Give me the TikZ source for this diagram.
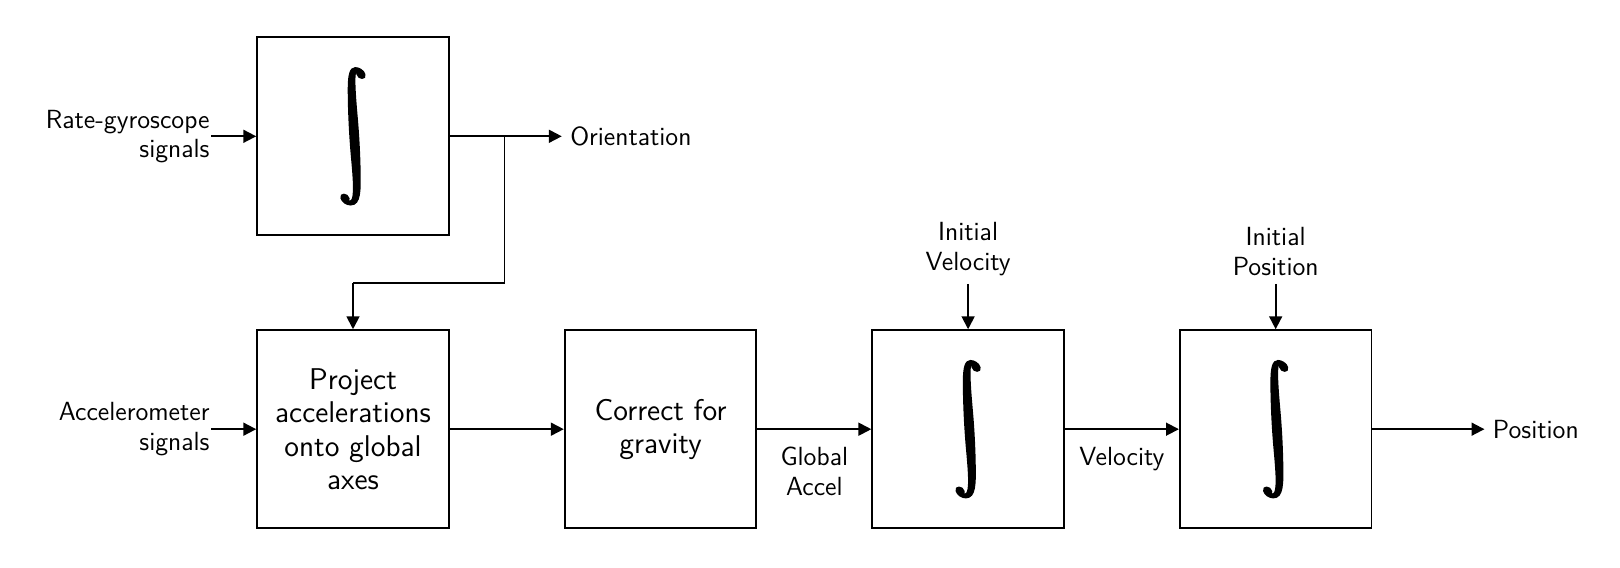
\documentclass[tikz,border=0pt]{standalone}
\usepackage{graphicx}
\usetikzlibrary{positioning,arrows.meta}
\newcommand{\integ}{\resizebox*{!}{2.03cm}{\special{pdf:literal direct 2 Tr 0.5 w}$\displaystyle\int$}}
\begin{document}
\begin{tikzpicture}[
			x=0.015cm, y=-0.015cm,
			font=\sffamily\fontsize{11.2}{12.5}\selectfont,
			node distance=1.395cm and 1.71cm,
			block/.style={draw, line width=0.8pt, minimum width=2.875cm, minimum height=2.97cm, align=center, font=\sffamily\fontsize{12.8}{14.2}\selectfont},
			intsym/.style={xslant=-0.26, transform shape, inner sep=0pt},
			sig/.style={line width=0.8pt, -{Triangle[length=5.5pt,width=5.5pt]}},
			wire/.style={line width=0.8pt},
			lbl/.style={inner sep=0.12cm, align=center},
			inlbl/.style={inner sep=0.5pt, align=right}
		]
		\useasboundingbox (0,0) rectangle (1620,568);
		% blocks
		\node[block] (gyro) at (353,136.3) {};
		\node[block, below=of gyro] (proj) {Project\\accelerations\\onto global\\axes};
		\node[block, right=of proj] (corr) {Correct for\\gravity};
		\node[block, right=of corr] (intv) {};
		\node[block, right=of intv] (intp) {};
		\node[intsym] (gyroint) at (gyro) {\integ};
		\node[intsym] (vint) at (intv) {\integ};
		\node[intsym] (pint) at (intp) {\integ};
		% labels
		\node[inlbl, left=0.675cm of gyro] (rate) {Rate-gyroscope\\signals};
		\node[inlbl, left=0.675cm of proj] (accel) {Accelerometer\\signals};
		\node[lbl, right=1.68cm of gyro] (orient) {Orientation};
		\node[lbl, right=1.68cm of intp] (pos) {Position};
		\node[lbl, above=0.68cm of intv] (v0) {Initial\\Velocity};
		\node[lbl, above=0.68cm of intp] (p0) {Initial\\Position};
		\coordinate[right=0.82cm of gyro] (tap);
		\coordinate[below=0.6975cm of gyro] (bend);
		% connectors
		\draw[sig] (rate) -- (gyro);
		\draw[sig] (gyro) -- (orient);
		\draw[wire] (tap) |- (bend);
		\draw[sig] (bend) -- (proj);
		\draw[sig] (accel) -- (proj);
		\draw[sig] (proj) -- (corr);
		\draw[sig] (corr) -- node[below=4pt, align=center] {Global\\Accel} (intv);
		\draw[sig] (intv) -- node[below=4pt] {Velocity} (intp);
		\draw[sig] (intp) -- (pos);
		\draw[sig] (v0) -- (intv);
		\draw[sig] (p0) -- (intp);
	\end{tikzpicture}
\end{document}
